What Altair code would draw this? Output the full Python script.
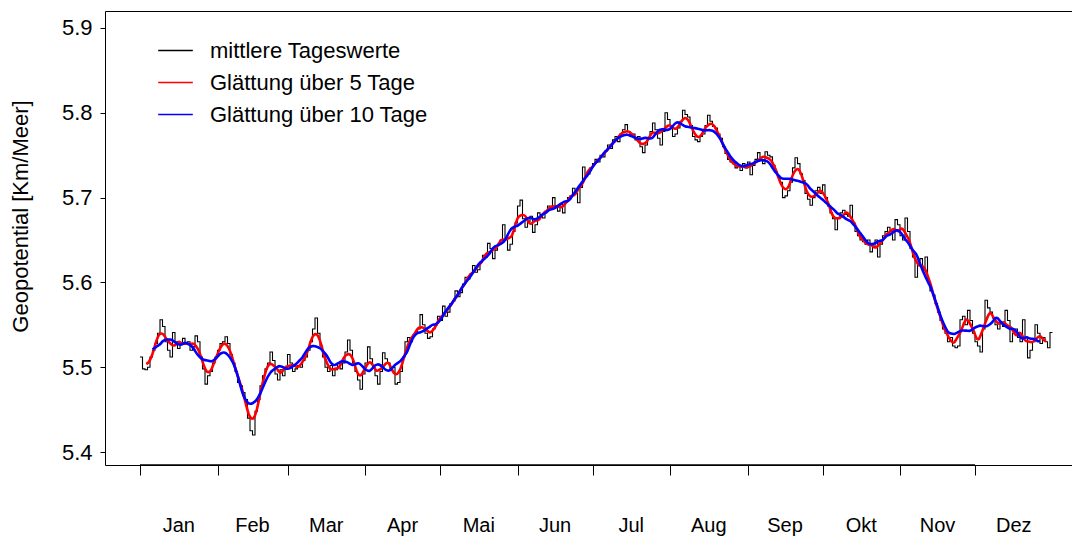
import altair as alt
import numpy as np
import pandas as pd

months = ["Jan", "Feb", "Mar", "Apr", "Mai", "Jun", "Jul", "Aug", "Sep", "Okt", "Nov", "Dez"]
month_days = [31, 28, 31, 30, 31, 30, 31, 31, 30, 31, 30, 31]

jan = [5.512, 5.498, 5.497, 5.500, 5.512, 5.520, 5.528, 5.540, 5.556, 5.548, 5.530, 5.520, 5.512, 5.541, 5.530, 5.522,
       5.528, 5.534, 5.527, 5.530, 5.520, 5.524, 5.537, 5.530, 5.512, 5.498, 5.480, 5.490, 5.495, 5.505, 5.512]
feb = [5.520, 5.528, 5.530, 5.536, 5.528, 5.515, 5.505, 5.495, 5.482, 5.478, 5.470, 5.462, 5.440, 5.425, 5.420, 5.448,
       5.462, 5.478, 5.490, 5.498, 5.505, 5.518, 5.508, 5.492, 5.485, 5.497, 5.490, 5.500]
mar = [5.515, 5.505, 5.495, 5.498, 5.502, 5.500, 5.508, 5.512, 5.520, 5.530, 5.545, 5.558, 5.540, 5.525, 5.512, 5.500,
       5.495, 5.502, 5.490, 5.497, 5.505, 5.498, 5.505, 5.518, 5.532, 5.520, 5.505, 5.495, 5.485, 5.474, 5.492]
apr = [5.505, 5.524, 5.510, 5.500, 5.490, 5.480, 5.495, 5.517, 5.510, 5.505, 5.498, 5.500, 5.480, 5.482, 5.495, 5.512,
       5.530, 5.535, 5.530, 5.538, 5.540, 5.545, 5.562, 5.550, 5.540, 5.534, 5.536, 5.545, 5.550, 5.560]
mai = [5.555, 5.572, 5.560, 5.565, 5.575, 5.578, 5.590, 5.583, 5.588, 5.598, 5.606, 5.604, 5.610, 5.620, 5.612, 5.615,
       5.624, 5.632, 5.630, 5.646, 5.640, 5.628, 5.638, 5.645, 5.650, 5.668, 5.652, 5.638, 5.645, 5.660, 5.670]
jun = [5.690, 5.697, 5.675, 5.665, 5.672, 5.678, 5.659, 5.668, 5.682, 5.680, 5.676, 5.684, 5.690, 5.686, 5.700, 5.688,
       5.684, 5.692, 5.682, 5.695, 5.700, 5.702, 5.711, 5.705, 5.694, 5.712, 5.736, 5.725, 5.728, 5.735]
jul = [5.740, 5.745, 5.742, 5.750, 5.748, 5.755, 5.762, 5.758, 5.768, 5.772, 5.766, 5.775, 5.780, 5.786, 5.778, 5.772,
       5.775, 5.768, 5.772, 5.760, 5.753, 5.762, 5.770, 5.778, 5.788, 5.780, 5.770, 5.762, 5.778, 5.800, 5.792]
aug = [5.785, 5.772, 5.775, 5.782, 5.790, 5.803, 5.798, 5.795, 5.785, 5.772, 5.768, 5.766, 5.772, 5.775, 5.785, 5.797,
       5.790, 5.784, 5.782, 5.775, 5.770, 5.760, 5.752, 5.745, 5.742, 5.740, 5.735, 5.738, 5.732, 5.740, 5.735]
sep = [5.742, 5.727, 5.738, 5.745, 5.753, 5.745, 5.740, 5.754, 5.750, 5.748, 5.738, 5.730, 5.725, 5.718, 5.700, 5.702,
       5.708, 5.718, 5.735, 5.747, 5.740, 5.728, 5.720, 5.705, 5.698, 5.691, 5.700, 5.708, 5.712, 5.705]
okt = [5.715, 5.700, 5.690, 5.682, 5.675, 5.662, 5.675, 5.682, 5.685, 5.680, 5.678, 5.691, 5.670, 5.660, 5.655, 5.650,
       5.648, 5.645, 5.650, 5.636, 5.642, 5.650, 5.630, 5.645, 5.655, 5.660, 5.665, 5.660, 5.650, 5.674, 5.668]
nov = [5.655, 5.650, 5.676, 5.660, 5.640, 5.630, 5.606, 5.620, 5.628, 5.615, 5.630, 5.600, 5.590, 5.585, 5.575, 5.565,
       5.555, 5.545, 5.540, 5.530, 5.535, 5.525, 5.523, 5.525, 5.556, 5.560, 5.550, 5.567, 5.555, 5.540]
dez = [5.530, 5.525, 5.518, 5.545, 5.579, 5.570, 5.565, 5.558, 5.550, 5.545, 5.552, 5.548, 5.567, 5.555, 5.530, 5.540,
       5.545, 5.535, 5.530, 5.556, 5.535, 5.511, 5.520, 5.530, 5.550, 5.540, 5.528, 5.535, 5.530, 5.523, 5.541]

series_names = ["mittlere Tageswerte", "Glättung über 5 Tage", "Glättung über 10 Tage"]
series_colors = ["#000000", "#ff0000", "#0000ff"]
y_ticks = [5.4, 5.5, 5.6, 5.7, 5.8, 5.9]

daily = jan + feb + mar + apr + mai + jun + jul + aug + sep + okt + nov + dez
n = len(daily)
day = np.arange(n)
s = pd.Series(daily)

df_daily = pd.DataFrame({"day": np.append(day, n), "value": daily + [daily[-1]], "series": series_names[0]})
df5 = pd.DataFrame({"day": day + 0.5, "value": s.rolling(5, center=True).mean(), "series": series_names[1]}).dropna()
df10 = pd.DataFrame({"day": day.astype(float), "value": s.rolling(10, center=True).mean(), "series": series_names[2]}).dropna()

starts = np.cumsum([0] + month_days[:-1])
df_months = pd.DataFrame({"day": starts + np.array(month_days) / 2.0, "month": months})
df_axisline = pd.DataFrame({"day": [int(starts[0])], "day2": [int(starts[-1])]})

W, H = 967, 454
FONT = "Liberation Sans"

xenc = alt.X("day:Q",
             scale=alt.Scale(domain=[-14, 372.8], nice=False, zero=False),
             axis=alt.Axis(values=[int(v) for v in starts], labels=False, tickSize=10, tickColor="black",
                           tickWidth=1, domain=False, grid=False, title=None))
yenc = alt.Y("value:Q",
             scale=alt.Scale(domain=[5.3847, 5.92], nice=False, zero=False),
             axis=alt.Axis(values=y_ticks, format=".1f", tickSize=5, tickColor="black", domain=False, grid=False,
                           labelFontSize=22, labelPadding=8, labelColor="black", labelFont=FONT,
                           title="Geopotential [Km/Meer]", titleFontSize=22, titleFontWeight="normal",
                           titleFont=FONT, titleColor="black", titleX=-85, titleY=205, titleBaseline="middle"))
cenc = alt.Color("series:N",
                 scale=alt.Scale(domain=series_names, range=series_colors),
                 legend=alt.Legend(orient="none", legendX=52, legendY=21, title=None, symbolType="stroke",
                                   symbolSize=1200, symbolStrokeWidth=1.5, labelFontSize=22, labelFont=FONT,
                                   labelColor="black", labelOffset=16, rowPadding=2, labelLimit=0))

black = alt.Chart(df_daily).mark_line(interpolate="step-after", strokeWidth=1.1).encode(x=xenc, y=yenc, color=cenc)
red = alt.Chart(df5).mark_line(interpolate="basis", strokeWidth=2.6).encode(x=xenc, y=yenc, color=cenc)
blue = alt.Chart(df10).mark_line(interpolate="basis", strokeWidth=2.6).encode(x=xenc, y=yenc, color=cenc)
labels = alt.Chart(df_months).mark_text(fontSize=20, font=FONT, baseline="middle", color="black").encode(
    x=xenc, y=alt.value(H + 61), text="month:N")
axisline = alt.Chart(df_axisline).mark_rule(color="black", strokeWidth=1.6).encode(
    x=xenc, x2="day2:Q", y=alt.value(H))

chart = alt.layer(black, red, blue, labels, axisline).properties(
    width=W, height=H,
    autosize=alt.AutoSizeParams(type="none"),
    padding={"left": 97, "top": 3, "right": 0, "bottom": 75},
).configure(font=FONT).configure_view(stroke="black", strokeWidth=1)

chart.save("out.html", embed_options={"renderer": "svg", "actions": False})
